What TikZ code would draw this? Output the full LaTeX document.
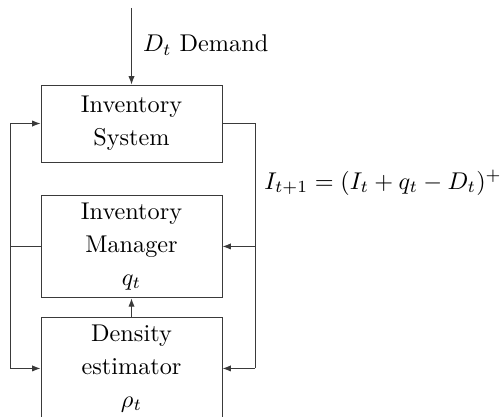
\documentclass[tikz,border=0pt]{standalone}
\usepackage{amsmath,amssymb}
\usepackage{xcolor}
\usepackage{tikz}
\usetikzlibrary{arrows.meta,calc,positioning}
\definecolor{linegray}{HTML}{3A3A3A}
\tikzset{
  block/.style={draw=linegray,thin,align=center,minimum width=2.625cm,inner sep=0pt},
  flow/.style={linegray,thin,-{Latex[length=1.2mm,width=0.9mm]}},
  wire/.style={linegray,thin}
}
\begin{document}
\begin{tikzpicture}
\useasboundingbox (0,0) rectangle (7.265,-6.047);
\node[block,minimum height=1.117cm] (sys) at (1.907,-1.791) {Inventory\\[1.5pt] System};
\node[block,minimum height=1.49cm] (mgr) at (1.907,-3.574) {Inventory\\[1.5pt] Manager\\[1.5pt] $q_t$};
\node[block,minimum height=1.49cm] (den) at (1.907,-5.343) {Density\\[1.5pt] estimator\\[1.5pt] $\rho_t$};
\coordinate (dtop) at (1.907,-0.116);
\coordinate (lx) at (0.145,0);
\coordinate (rx) at (3.698,0);
\draw[flow] (dtop) -- (sys.north);
\node[right] (dem) at (1.95,-0.653) {$D_t$ Demand};
\draw[flow] (den.north) -- (mgr.south);
% feedback on the left
\draw[wire] (mgr.west) -- (lx |- mgr.west);
\draw[flow] (lx |- mgr.west) |- (sys.west);
\draw[flow] (lx |- mgr.west) |- (den.west);
% state on the right
\draw[wire] (sys.east) -| (rx |- den.east);
\draw[flow] (rx |- mgr.east) -- (mgr.east);
\draw[flow] (rx |- den.east) -- (den.east);
\node[right] (inv) at (3.71,-2.65) {$I_{t+1} = (I_t + q_t - D_t)^+$};
\end{tikzpicture}
\end{document}
